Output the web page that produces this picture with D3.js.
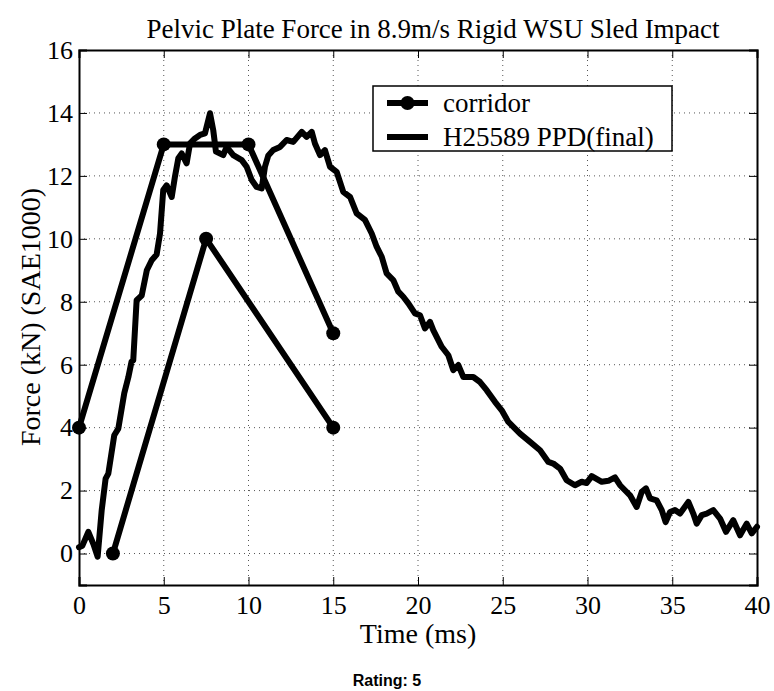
<!DOCTYPE html>
<html>
<head>
<meta charset="utf-8">
<script src="https://cdn.jsdelivr.net/npm/d3@7"></script>
<style>
  body { margin: 0; background: #fff; }
  text { font-family: "Liberation Serif", "Times New Roman", serif; fill: #000; }
</style>
</head>
<body>
<div id="chart"></div>
<script>
// corridor bounds (ms, kN)
const corridorUpper = [[0, 4], [5, 13], [10, 13], [15, 7]];
const corridorLower = [[2, 0], [7.5, 10], [15, 4]];

// H25589 PPD(final) trace
const testTime = [0, 0.2, 0.55, 0.85, 1.1, 1.34, 1.57, 1.73, 2.08, 2.32, 2.67, 2.91, 3.1, 3.2, 3.4, 3.7, 4.0, 4.29, 4.58, 4.78, 4.97,
  5.17, 5.47, 5.66, 5.86, 6.06, 6.35, 6.55, 6.84, 7.14, 7.43, 7.73, 7.92, 8.08, 8.32, 8.51, 8.71, 9.1, 9.6, 9.89,
  10.19, 10.48, 10.78, 10.97, 11.17, 11.46, 11.86, 12.25, 12.64, 13.14, 13.43, 13.73, 13.92, 14.22, 14.51, 14.81,
  15.2, 15.59, 15.99, 16.38, 16.87, 17.27, 17.56, 17.86, 18.15, 18.54, 18.84, 19.13, 19.43, 19.82, 20.12, 20.41,
  20.71, 20.9, 21.4, 21.79, 22.08, 22.38, 22.67, 23.26, 23.66, 24.05, 24.54, 24.94, 25.33, 26.02, 26.61, 27.2,
  27.69, 27.98, 28.38, 28.77, 29.26, 29.66, 29.95, 30.25, 30.84, 31.23, 31.62, 31.92, 32.21, 32.51, 32.9, 33.2,
  33.45, 33.69, 34.08, 34.38, 34.61, 34.87, 35.16, 35.46, 35.95, 36.24, 36.44, 36.74, 37.03, 37.42, 37.82, 38.17,
  38.6, 39.0, 39.39, 39.69, 40.0];
const testForce = [0.2, 0.25, 0.69, 0.3, -0.1, 1.38, 2.38, 2.54, 3.76, 3.97, 5.09, 5.6, 6.1, 6.14, 8.05, 8.2, 9.0, 9.32, 9.5, 10.17, 11.55,
  11.7, 11.33, 11.97, 12.56, 12.71, 12.4, 13.03, 13.19, 13.3, 13.35, 13.99, 13.45, 12.77, 12.71, 12.66, 12.92, 12.66, 12.5, 12.29,
  11.87, 11.65, 11.6, 12.29, 12.65, 12.82, 12.92, 13.14, 13.08, 13.4, 13.24, 13.4, 13.03, 12.66, 12.82, 12.29,
  12.13, 11.49, 11.33, 10.81, 10.6, 10.17, 9.75, 9.43, 8.9, 8.69, 8.32, 8.16, 7.95, 7.63, 7.57, 7.15,
  7.36, 7.1, 6.57, 6.3, 5.83, 5.99, 5.61, 5.61, 5.45, 5.19, 4.82, 4.55, 4.18, 3.81, 3.55, 3.28,
  2.91, 2.86, 2.7, 2.33, 2.17, 2.28, 2.24, 2.46, 2.28, 2.31, 2.42, 2.17, 2.01, 1.85, 1.48, 1.96,
  2.07, 1.75, 1.69, 1.38, 1.0, 1.32, 1.38, 1.27, 1.64, 1.27, 0.95, 1.22, 1.27, 1.38, 1.11, 0.69,
  1.06, 0.58, 0.95, 0.64, 0.85];

const xTicks = [0, 5, 10, 15, 20, 25, 30, 35, 40];
const yTicks = [0, 2, 4, 6, 8, 10, 12, 14, 16];
const legendLabels = ["corridor", "H25589 PPD(final)"];

const W = 774, H = 691;
const m = { left: 79, right: 17, top: 50, bottom: 106 };
const pw = W - m.left - m.right, ph = H - m.top - m.bottom;
const SERIF = "'Liberation Serif', 'Times New Roman', serif";

const svg = d3.select("#chart").append("svg")
  .attr("width", W).attr("height", H);

const x = d3.scaleLinear().domain([0, 40]).range([0, pw]);
const y = d3.scaleLinear().domain([-1, 16]).range([ph, 0]);

const g = svg.append("g").attr("transform", `translate(${m.left},${m.top})`);

// dotted grid
g.append("g").selectAll("line").data(xTicks.slice(1, -1)).join("line")
  .attr("x1", d => x(d)).attr("x2", d => x(d)).attr("y1", 0).attr("y2", ph)
  .attr("stroke", "#555").attr("stroke-width", 1).attr("stroke-dasharray", "1,4");
g.append("g").selectAll("line").data(yTicks.slice(0, -1)).join("line")
  .attr("y1", d => y(d)).attr("y2", d => y(d)).attr("x1", 0).attr("x2", pw)
  .attr("stroke", "#555").attr("stroke-width", 1).attr("stroke-dasharray", "1,4");

// axes with inward ticks
const tickFmt = d3.format("d");
const axB = g.append("g").attr("transform", `translate(0,${ph})`)
  .call(d3.axisBottom(x).tickValues(xTicks).tickSize(-8).tickPadding(17).tickFormat(tickFmt));
const axT = g.append("g")
  .call(d3.axisTop(x).tickValues(xTicks).tickSize(-8).tickFormat(""));
const axL = g.append("g")
  .call(d3.axisLeft(y).tickValues(yTicks).tickSize(-8).tickPadding(6).tickFormat(tickFmt));
const axR = g.append("g").attr("transform", `translate(${pw},0)`)
  .call(d3.axisRight(y).tickValues(yTicks).tickSize(-8).tickFormat(""));
[axB, axT, axL, axR].forEach(a => {
  a.attr("font-family", SERIF).attr("font-size", 26);
  a.select(".domain").attr("stroke", "#000").attr("stroke-width", 2);
  a.selectAll(".tick line").attr("stroke", "#000").attr("stroke-width", 1);
  a.selectAll("text").attr("fill", "#000");
});
axB.selectAll("text").attr("dy", "0.45em");

// lines
const line = d3.line().x(d => x(d[0])).y(d => y(d[1]));
const testData = testTime.map((t, i) => [t, testForce[i]]);

g.append("path").datum(testData).attr("d", line)
  .attr("fill", "none").attr("stroke", "#000").attr("stroke-width", 6)
  .attr("stroke-linejoin", "round").attr("stroke-linecap", "round");

[corridorUpper, corridorLower].forEach(c => {
  g.append("path").datum(c).attr("d", line)
    .attr("fill", "none").attr("stroke", "#000").attr("stroke-width", 6)
    .attr("stroke-linejoin", "round");
  g.append("g").selectAll("circle").data(c).join("circle")
    .attr("cx", d => x(d[0])).attr("cy", d => y(d[1])).attr("r", 7)
    .attr("fill", "#000");
});

// legend
const lg = svg.append("g").attr("transform", "translate(373,86)");
lg.append("rect").attr("width", 299).attr("height", 65)
  .attr("fill", "#fff").attr("stroke", "#000").attr("stroke-width", 1.5);
legendLabels.forEach((lab, i) => {
  const yy = 17 + i * 34;
  lg.append("line").attr("x1", 14).attr("x2", 55).attr("y1", yy).attr("y2", yy)
    .attr("stroke", "#000").attr("stroke-width", 6);
  if (i === 0) lg.append("circle").attr("cx", 34.5).attr("cy", yy).attr("r", 7).attr("fill", "#000");
  lg.append("text").attr("x", 70).attr("y", yy).attr("dy", "0.35em")
    .style("font-size", "27px").text(lab);
});

// titles
svg.append("text").attr("x", 433).attr("y", 38).attr("text-anchor", "middle")
  .style("font-size", "27px").text("Pelvic Plate Force in 8.9m/s Rigid WSU Sled Impact");
svg.append("text").attr("x", 418).attr("y", 643).attr("text-anchor", "middle")
  .style("font-size", "28px").text("Time (ms)");
svg.append("text").attr("transform", "translate(40,317) rotate(-90)").attr("text-anchor", "middle")
  .style("font-size", "28px").text("Force (kN) (SAE1000)");
svg.append("text").attr("x", 387).attr("y", 686).attr("text-anchor", "middle")
  .style("font-family", "'Liberation Sans', Arial, sans-serif").style("font-weight", "bold")
  .style("font-size", "16px").text("Rating: 5");
</script>
</body>
</html>
